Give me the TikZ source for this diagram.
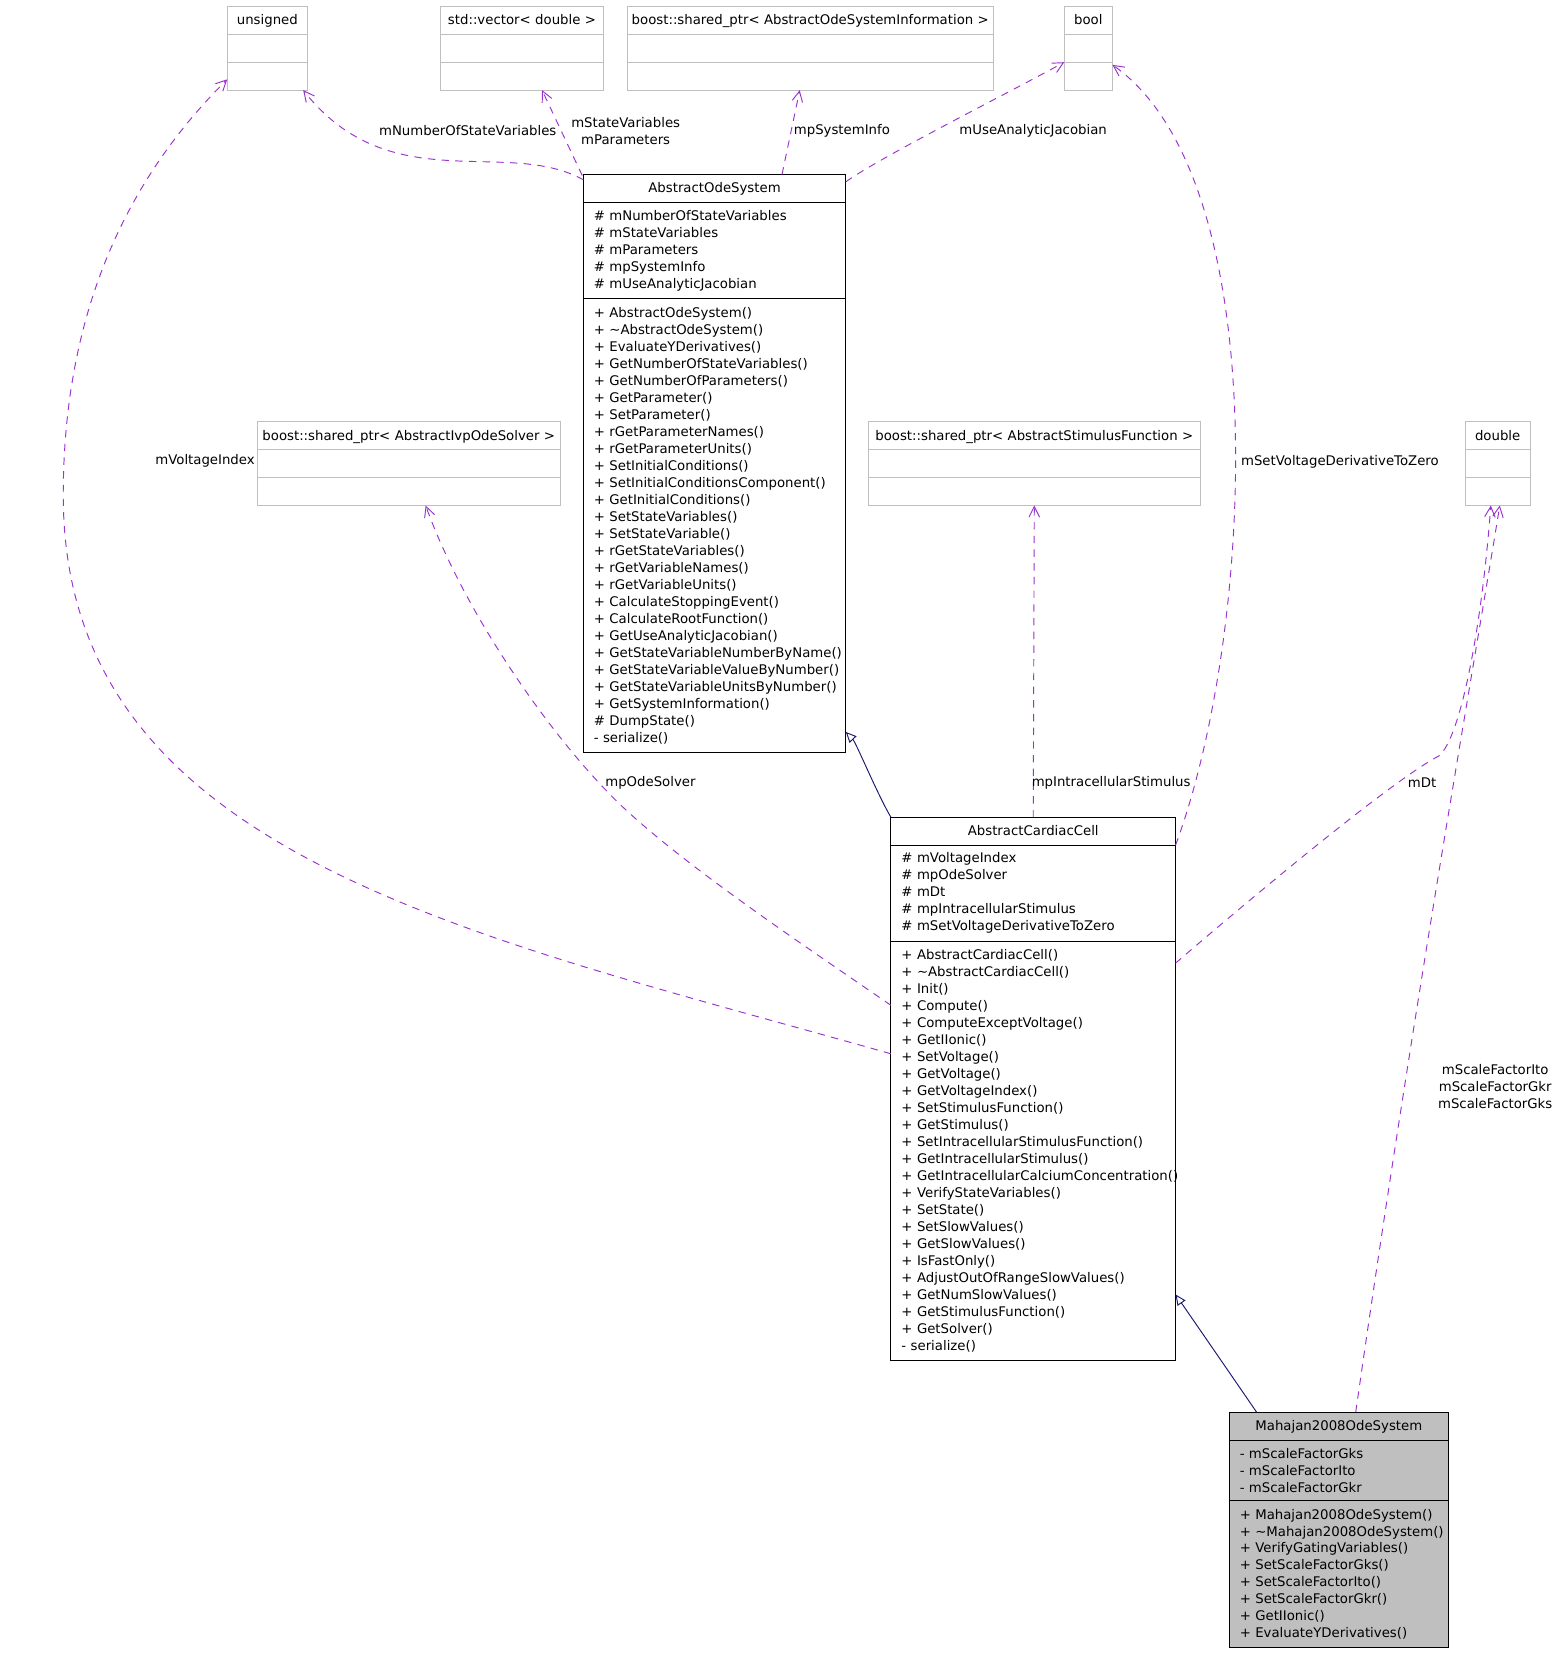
\documentclass[tikz,border=0pt]{standalone}
\usepackage{fontspec}
\setmainfont{DejaVu Sans}
\usepackage{tikz}
\usetikzlibrary{arrows.meta, positioning}
\usepackage{xcolor}
\definecolor{DoxyBlack}{HTML}{000000}
\definecolor{DoxyWhite}{HTML}{FFFFFF}
\definecolor{DoxyGrey}{HTML}{BFBFBF}
\definecolor{DoxyPurple}{HTML}{9A32CD}
\definecolor{DoxyNavy}{HTML}{191970}
\newcommand{\umlfont}{\fontsize{12.6}{16.1}\selectfont\hyphenpenalty=10000 }
\tikzset{
    % Class boxes with sharp corners
    class title/.style={
        rectangle,
        draw=DoxyBlack,
        fill=DoxyWhite,
        line width=0.9pt,
        minimum height=26.5pt,
        inner sep=0pt,
        outer sep=0pt,
        text height=10.5pt,
        text depth=2pt,
        anchor=north west,
        align=center,
        font=\umlfont
    },
    class part/.style={
        rectangle,
        draw=DoxyBlack,
        fill=DoxyWhite,
        line width=0.9pt,
        inner xsep=10pt,
        inner ysep=2pt,
        outer sep=0pt,
        align=left,
        font=\umlfont
    },
    class grey/.style={
        fill=DoxyGrey
    },
    type title/.style={
        class title,
        draw=DoxyGrey
    },
    type part/.style={
        rectangle,
        draw=DoxyGrey,
        line width=0.9pt,
        minimum height=26.5pt,
        inner sep=0pt,
        outer sep=0pt
    },
    usage arrow/.style={
        -{Straight Barb[length=10pt,width=10pt]},
        draw=DoxyPurple,
        line width=0.9pt,
        dash pattern=on 7pt off 6pt
    },
    inherit arrow/.style={
        -{Triangle[open,length=10pt,width=9pt,fill=DoxyWhite]},
        draw=DoxyNavy,
        line width=0.9pt
    },
    edge label/.style={
        inner sep=0pt,
        align=center,
        font=\umlfont
    }
}

\begin{document}
\begin{tikzpicture}[x=1pt, y=-1pt]
        \useasboundingbox (0,0) rectangle (1473,1568);

        % Member types, top row
        \node[type title, text width=76pt] (unsignedT) at (215.6,6) {unsigned};
        \node[type part, minimum width=76pt, below=0pt of unsignedT] (unsignedA) {};
        \node[type part, minimum width=76pt, below=0pt of unsignedA] (unsignedB) {};

        \node[type title, text width=154.3pt] (vectorT) at (418,6) {std::vector<~double~>};
        \node[type part, minimum width=154.3pt, below=0pt of vectorT] (vectorA) {};
        \node[type part, minimum width=154.3pt, below=0pt of vectorA] (vectorB) {};

        \node[type title, text width=346.8pt] (sysinfoT) at (595.2,6) {boost::shared\_ptr<~AbstractOdeSystemInformation~>};
        \node[type part, minimum width=346.8pt, below=0pt of sysinfoT] (sysinfoA) {};
        \node[type part, minimum width=346.8pt, below=0pt of sysinfoA] (sysinfoB) {};

        \node[type title, text width=45.7pt] (boolT) at (1009.5,6) {bool};
        \node[type part, minimum width=45.7pt, below=0pt of boolT] (boolA) {};
        \node[type part, minimum width=45.7pt, below=0pt of boolA] (boolB) {};

        % Member types, middle row
        \node[type title, text width=287.5pt] (solverT) at (244,400) {boost::shared\_ptr<~AbstractIvpOdeSolver~>};
        \node[type part, minimum width=287.5pt, below=0pt of solverT] (solverA) {};
        \node[type part, minimum width=287.5pt, below=0pt of solverA] (solverB) {};

        \node[type title, text width=314.6pt] (stimT) at (823.8,400) {boost::shared\_ptr<~AbstractStimulusFunction~>};
        \node[type part, minimum width=314.6pt, below=0pt of stimT] (stimA) {};
        \node[type part, minimum width=314.6pt, below=0pt of stimA] (stimB) {};

        \node[type title, text width=61.3pt] (doubleT) at (1390,400) {double};
        \node[type part, minimum width=61.3pt, below=0pt of doubleT] (doubleA) {};
        \node[type part, minimum width=61.3pt, below=0pt of doubleA] (doubleB) {};

        % AbstractOdeSystem
        \node[class title, text width=249pt] (aosT) at (553.3,165.5) {AbstractOdeSystem};
        \node[class part, text width=229pt, minimum height=91.4pt, below=0pt of aosT] (aosA) {
            \#~mNumberOfStateVariables\\
            \#~mStateVariables\\
            \#~mParameters\\
            \#~mpSystemInfo\\
            \#~mUseAnalyticJacobian
        };
        \node[class part, text width=229pt, minimum height=430.5pt, below=0pt of aosA] (aosM) {
            +~AbstractOdeSystem()\\
            +~\textasciitilde AbstractOdeSystem()\\
            +~EvaluateYDerivatives()\\
            +~GetNumberOfStateVariables()\\
            +~GetNumberOfParameters()\\
            +~GetParameter()\\
            +~SetParameter()\\
            +~rGetParameterNames()\\
            +~rGetParameterUnits()\\
            +~SetInitialConditions()\\
            +~SetInitialConditionsComponent()\\
            +~GetInitialConditions()\\
            +~SetStateVariables()\\
            +~SetStateVariable()\\
            +~rGetStateVariables()\\
            +~rGetVariableNames()\\
            +~rGetVariableUnits()\\
            +~CalculateStoppingEvent()\\
            +~CalculateRootFunction()\\
            +~GetUseAnalyticJacobian()\\
            +~GetStateVariableNumberByName()\\
            +~GetStateVariableValueByNumber()\\
            +~GetStateVariableUnitsByNumber()\\
            +~GetSystemInformation()\\
            \#~DumpState()\\
            -~serialize()
        };

        % AbstractCardiacCell
        \node[class title, text width=270pt] (accT) at (845.1,775.2) {AbstractCardiacCell};
        \node[class part, text width=250pt, minimum height=90.9pt, below=0pt of accT] (accA) {
            \#~mVoltageIndex\\
            \#~mpOdeSolver\\
            \#~mDt\\
            \#~mpIntracellularStimulus\\
            \#~mSetVoltageDerivativeToZero
        };
        \node[class part, text width=250pt, minimum height=398.3pt, below=0pt of accA] (accM) {
            +~AbstractCardiacCell()\\
            +~\textasciitilde AbstractCardiacCell()\\
            +~Init()\\
            +~Compute()\\
            +~ComputeExceptVoltage()\\
            +~GetIIonic()\\
            +~SetVoltage()\\
            +~GetVoltage()\\
            +~GetVoltageIndex()\\
            +~SetStimulusFunction()\\
            +~GetStimulus()\\
            +~SetIntracellularStimulusFunction()\\
            +~GetIntracellularStimulus()\\
            +~GetIntracellularCalciumConcentration()\\
            +~VerifyStateVariables()\\
            +~SetState()\\
            +~SetSlowValues()\\
            +~GetSlowValues()\\
            +~IsFastOnly()\\
            +~AdjustOutOfRangeSlowValues()\\
            +~GetNumSlowValues()\\
            +~GetStimulusFunction()\\
            +~GetSolver()\\
            -~serialize()
        };

        % Mahajan2008OdeSystem
        \node[class title, class grey, text width=208pt] (mahT) at (1166,1339.6) {Mahajan2008OdeSystem};
        \node[class part, class grey, text width=188pt, minimum height=57.5pt, below=0pt of mahT] (mahA) {
            -~mScaleFactorGks\\
            -~mScaleFactorIto\\
            -~mScaleFactorGkr
        };
        \node[class part, class grey, text width=188pt, minimum height=139.4pt, below=0pt of mahA] (mahM) {
            +~Mahajan2008OdeSystem()\\
            +~\textasciitilde Mahajan2008OdeSystem()\\
            +~VerifyGatingVariables()\\
            +~SetScaleFactorGks()\\
            +~SetScaleFactorIto()\\
            +~SetScaleFactorGkr()\\
            +~GetIIonic()\\
            +~EvaluateYDerivatives()
        };

        % Usage relations
        \draw[usage arrow] ([yshift=-5pt]aosT.north west) .. controls (480,130) and (370,190) .. ([xshift=-4pt]unsignedB.south east);
        \draw[usage arrow] ([xshift=-1pt,yshift=-1pt]aosT.north west) -- ([xshift=19pt]vectorB.south);
        \draw[usage arrow] ([xshift=64pt]aosT.north) -- ([xshift=-10pt]sysinfoB.south);
        \draw[usage arrow] ([yshift=-7pt]aosT.north east) .. controls (834,149.5) and (957,88) .. (boolA.south west);
        \draw[usage arrow] (accT.south east) .. controls (1190,600) and (1210,170) .. ([yshift=-2.5pt]boolB.north east);
        \draw[usage arrow] ([yshift=-107pt]accM.north west) .. controls (445,886) and (60,811) .. (60,470)
            .. controls (60,320) and (105,185) .. ([yshift=-3pt]unsignedB.west);
        \draw[usage arrow] ([yshift=-61pt]accM.north west) .. controls (760,895) and (640,815) .. (582,757)
            .. controls (520,695) and (440,580) .. ([xshift=16pt]solverB.south);
        \draw[usage arrow] (accT.north) -- (stimB.south);
        \draw[usage arrow] ([yshift=-21pt]accM.north east) .. controls (1230,815) and (1330,735) .. (1365,717)
            .. controls (1385,700) and (1405,600) .. ([xshift=-6.5pt]doubleB.south);
        \draw[usage arrow] ([xshift=16pt]mahT.north) .. controls (1340,960) and (1400,620) .. ([xshift=2pt]doubleB.south);

        % Inheritance
        \draw[inherit arrow] (accT.north west) .. controls (833,755) and (812,704.5) .. ([yshift=19.6pt]aosM.south east);
        \draw[inherit arrow] ([xshift=26pt]mahT.north west) .. controls (1180,1322) and (1129,1248) .. ([yshift=63pt]accM.south east);

        % Member names on the relations
        \node[edge label] (nStateLbl) at (443.7,124.3) {mNumberOfStateVariables};
        \node[edge label] (stateParLbl) at (593.5,124.3) {mStateVariables\\mParameters};
        \node[edge label] (sysInfoLbl) at (798.6,124) {mpSystemInfo};
        \node[edge label] (jacobianLbl) at (980,124) {mUseAnalyticJacobian};
        \node[edge label] (zeroLbl) at (1271,437.9) {mSetVoltageDerivativeToZero};
        \node[edge label] (vIndexLbl) at (194.5,436.8) {mVoltageIndex};
        \node[edge label] (solverLbl) at (617,742.6) {mpOdeSolver};
        \node[edge label] (stimLbl) at (1054,742.3) {mpIntracellularStimulus};
        \node[edge label] (dtLbl) at (1349,742.4) {mDt};
        \node[edge label] (scaleLbl) at (1418.3,1030.7) {mScaleFactorIto\\mScaleFactorGkr\\mScaleFactorGks};
\end{tikzpicture}
\end{document}
